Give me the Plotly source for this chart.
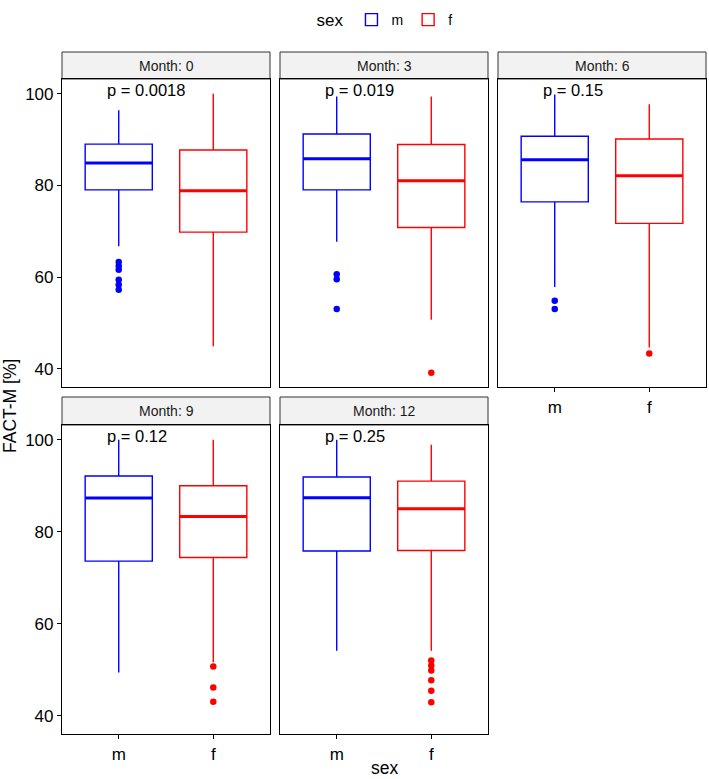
import plotly.graph_objects as go

# ---------------- data ----------------
MONTHS = [0, 3, 6, 9, 12]
SEX = ['m', 'f']
COLORS = {'m': '#0000FF', 'f': '#FF0000'}

M_LOW = [66.7, 67.7, 57.8, 49.4, 54.1]
M_Q1 = [79.0, 79.0, 76.4, 73.6, 75.8]
M_MED = [84.9, 85.8, 85.6, 87.3, 87.4]
M_Q3 = [89.0, 91.2, 90.7, 92.1, 91.9]
M_HIGH = [96.4, 99.4, 99.8, 100.0, 100.0]
M_OUT = [[63.3, 62.4, 61.6, 59.4, 58.3, 57.2], [60.6, 59.5, 53.0], [54.8, 53.0], [], []]

F_LOW = [44.9, 50.7, 44.6, 51.6, 54.1]
F_Q1 = [69.8, 70.8, 71.7, 74.4, 75.9]
F_MED = [78.8, 81.0, 82.1, 83.3, 85.0]
F_Q3 = [87.7, 88.9, 90.1, 90.0, 91.0]
F_HIGH = [100.0, 99.4, 97.7, 100.0, 98.9]
F_OUT = [[], [39.1], [43.3], [50.7, 46.1, 43.0], [52.0, 50.9, 49.8, 47.7, 45.4, 42.9]]

P_LABELS = ['p = 0.0018', 'p = 0.019', 'p = 0.15', 'p = 0.12', 'p = 0.25']
P_Y = 100.9

STATS = {
    'm': dict(low=M_LOW, q1=M_Q1, med=M_MED, q3=M_Q3, high=M_HIGH, out=M_OUT),
    'f': dict(low=F_LOW, q1=F_Q1, med=F_MED, q3=F_Q3, high=F_HIGH, out=F_OUT),
}

# ---------------- layout geometry (px) ----------------
W, H = 709, 779
COLS = [(62, 270), (280, 488), (498, 706)]
ROWS = [dict(strip=(52, 79), plot=(79, 387)), dict(strip=(397, 425), plot=(425, 734))]
YRANGE = [36.0, 103.2]
XRANGE = [-0.6, 1.6]
BOXW = 0.71
FONT = 'Liberation Sans, Arial, sans-serif'


def px_x(p):
    return p / W


def px_y(p):
    return 1 - p / H


fig = go.Figure()
layout = dict(
    width=W, height=H, margin=dict(l=0, r=0, t=0, b=0),
    plot_bgcolor='white', paper_bgcolor='white',
    font=dict(family=FONT, color='black'),
    boxmode='overlay', showlegend=True,
    legend=dict(orientation='h', x=px_x(386), xanchor='center', y=px_y(4), yanchor='top',
                title=dict(text='sex', font=dict(size=17)), font=dict(size=14),
                itemwidth=30, tracegroupgap=0),
)
shapes = []
annotations = []

for k, month in enumerate(MONTHS):
    r, c = divmod(k, 3)
    ax = '' if k == 0 else str(k + 1)
    xa, ya = 'x' + ax, 'y' + ax
    x0, x1 = COLS[c]
    s0, s1 = ROWS[r]['strip']
    p0, p1 = ROWS[r]['plot']
    show_x = (r == 1) or (k == 2)
    show_y = (c == 0)
    layout['xaxis' + ax] = dict(
        domain=[px_x(x0), px_x(x1)], anchor=ya, range=XRANGE,
        tickvals=[0, 1], ticktext=SEX, showticklabels=show_x,
        ticks='outside' if show_x else '', ticklen=4, tickwidth=1, tickcolor='black',
        tickfont=dict(size=17, color='black'),
        showline=True, mirror=True, linecolor='black', linewidth=1.2,
        showgrid=False, zeroline=False, fixedrange=True,
    )
    layout['yaxis' + ax] = dict(
        domain=[px_y(p1), px_y(p0)], anchor=xa, range=YRANGE,
        tickvals=[40, 60, 80, 100], showticklabels=show_y,
        ticks='outside' if show_y else '', ticklen=4, tickwidth=1, tickcolor='black',
        tickfont=dict(size=17, color='black'),
        showline=True, mirror=True, linecolor='black', linewidth=1.2,
        showgrid=False, zeroline=False, fixedrange=True,
    )
    # strip
    shapes.append(dict(type='rect', xref='paper', yref='paper',
                       x0=px_x(x0), x1=px_x(x1), y0=px_y(s1), y1=px_y(s0),
                       fillcolor='#F2F2F2', line=dict(color='#333333', width=1), layer='below'))
    annotations.append(dict(text=f'Month: {month}', xref='paper', yref='paper',
                            x=px_x((x0 + x1) / 2), y=px_y((s0 + s1) / 2),
                            xanchor='center', yanchor='middle', showarrow=False,
                            font=dict(size=14, color='#1a1a1a')))
    # p-value label
    annotations.append(dict(text=P_LABELS[k], xref=xa, yref=ya, x=-0.14, y=P_Y,
                            xanchor='left', yanchor='middle', showarrow=False,
                            font=dict(size=16.5, color='black')))

    for i, s in enumerate(SEX):
        st = STATS[s]
        col = COLORS[s]
        fig.add_trace(go.Box(
            x=[i], q1=[st['q1'][k]], median=[st['med'][k]], q3=[st['q3'][k]],
            lowerfence=[st['low'][k]], upperfence=[st['high'][k]],
            width=BOXW, whiskerwidth=0, boxpoints=False,
            line=dict(color=col, width=1.4), fillcolor='rgba(255,255,255,0)',
            name=s, legendgroup=s, showlegend=(k == 0),
            xaxis=xa, yaxis=ya, hoverinfo='skip',
        ))
        # thicker median line (ggplot fatten)
        fig.add_trace(go.Scatter(
            x=[i - BOXW / 2, i + BOXW / 2], y=[st['med'][k]] * 2, mode='lines',
            line=dict(color=col, width=3), showlegend=False, hoverinfo='skip',
            xaxis=xa, yaxis=ya,
        ))
        if st['out'][k]:
            fig.add_trace(go.Scatter(
                x=[i] * len(st['out'][k]), y=st['out'][k], mode='markers',
                marker=dict(color=col, size=6.5), showlegend=False, hoverinfo='skip',
                xaxis=xa, yaxis=ya,
            ))

# axis titles
annotations.append(dict(text='FACT-M [%]', xref='paper', yref='paper', x=px_x(10), y=px_y(406),
                        textangle=-90, xanchor='center', yanchor='middle', showarrow=False,
                        font=dict(size=17.5, color='black')))
annotations.append(dict(text='sex', xref='paper', yref='paper', x=px_x(384), y=px_y(768),
                        xanchor='center', yanchor='middle', showarrow=False,
                        font=dict(size=17.5, color='black')))

layout['shapes'] = shapes
layout['annotations'] = annotations
fig.update_layout(**layout)
fig.write_html('out.html')
